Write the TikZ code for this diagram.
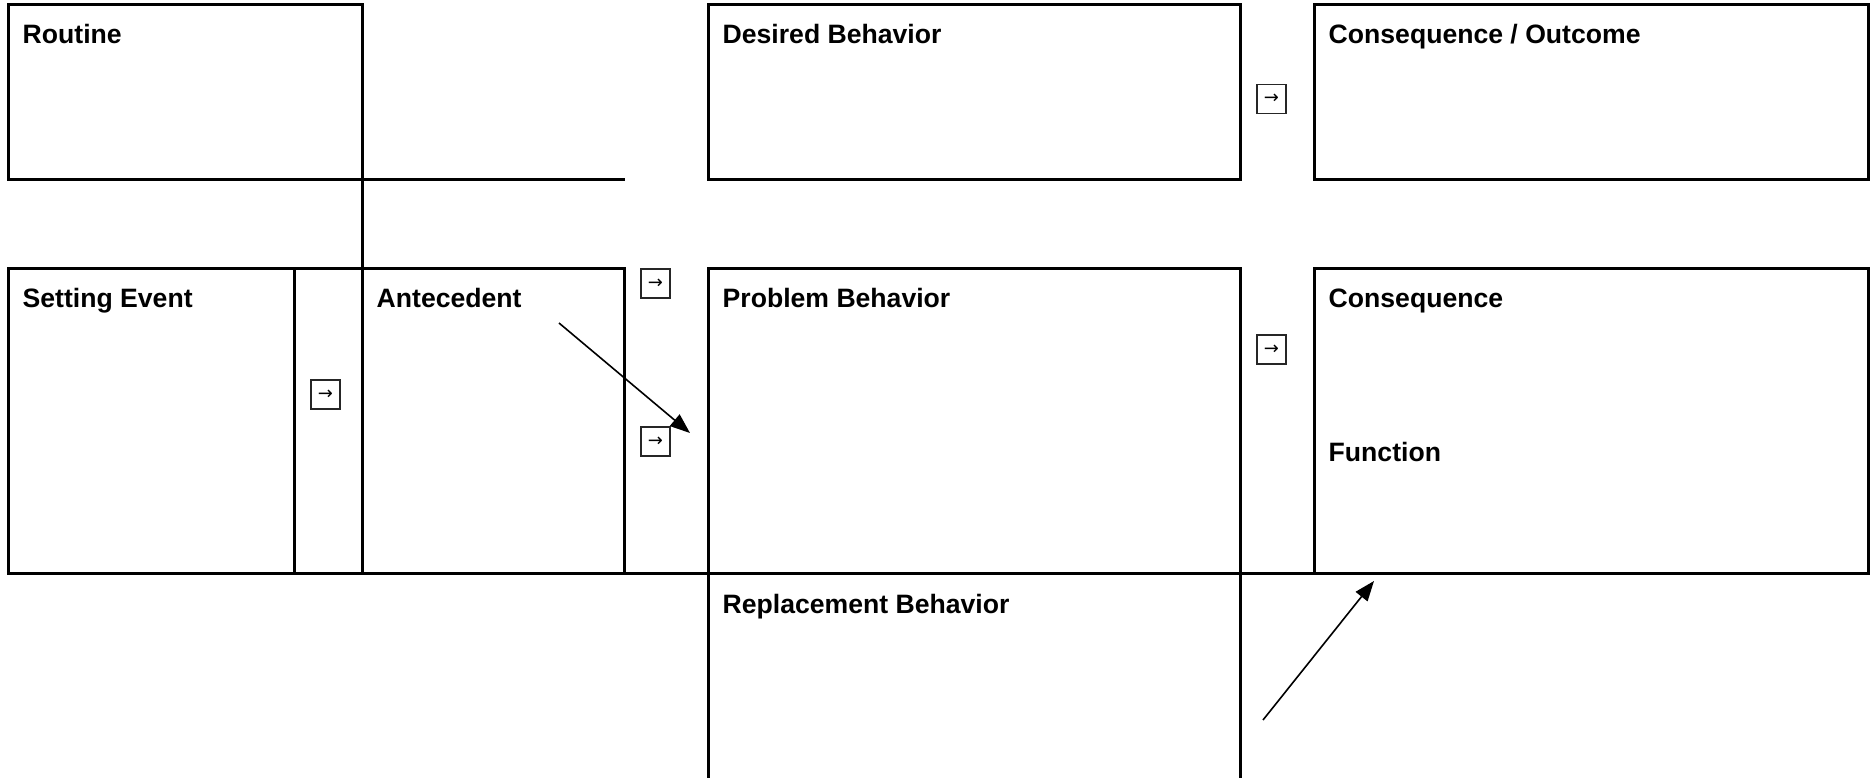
\documentclass[tikz,border=0pt]{standalone}
\usepackage{fontspec}
\setmainfont{Liberation Sans}
\newfontfamily\arrowfont{DejaVu Sans}
\usetikzlibrary{arrows.meta}
\tikzset{
  box/.style={draw, line width=3pt, inner sep=0pt, outer sep=0pt, anchor=north west},
  rule/.style={line width=3pt},
  lbl/.style={anchor=base west, inner sep=0pt, font=\fontsize{26.6pt}{31pt}\selectfont\bfseries},
  arrowbox/.style={draw=black!85, line width=1.4pt, minimum width=29pt, minimum height=29pt,
    inner sep=0pt, font=\arrowfont\fontsize{18pt}{18pt}\selectfont},
  pointer/.style={line width=1.6pt, -{Triangle[length=20pt,width=15pt]}},
}
\begin{document}
\begin{tikzpicture}[x=1pt,y=-1pt]
\useasboundingbox (0,0) rectangle (1875,778);

% top row
\node[box, minimum width=354pt, minimum height=175pt] (routine) at (8,5) {};
\node[box, minimum width=532pt, minimum height=175pt] (desired) at (708,5) {};
\node[box, minimum width=554pt, minimum height=175pt] (outcome) at (1314,5) {};

% middle row
\node[box, minimum width=286pt, minimum height=304pt] (setting) at (8,269) {};
\node[box, minimum width=68pt,  minimum height=304pt] (gap)     at (294,269) {};
\node[box, minimum width=262pt, minimum height=304pt] (antec)   at (362,269) {};
\node[box, minimum width=532pt, minimum height=304pt] (problem) at (708,269) {};
\node[box, minimum width=554pt, minimum height=304pt] (conseq)  at (1314,269) {};

% joining rules
\coordinate (routineEnd) at (625,180);
\draw[rule] (routine.south east) -- (routineEnd);
\draw[rule] (routine.south east) -- (antec.north west);
\draw[rule] (setting.south west) -- (conseq.south east);

% replacement behaviour column
\coordinate (replL) at (708,795);
\coordinate (replR) at (1240,795);
\draw[rule] (problem.south west) -- (replL);
\draw[rule] (problem.south east) -- (replR);

% labels
\node[lbl] (tRoutine) at (22.5,43.5) {Routine};
\node[lbl] (tDesired) at (722.5,43.5) {Desired Behavior};
\node[lbl] (tOutcome) at (1328.5,43.5) {Consequence / Outcome};
\node[lbl] (tSetting) at (22.5,308) {Setting Event};
\node[lbl] (tAntec) at (376.5,308) {Antecedent};
\node[lbl] (tProblem) at (722.5,308) {Problem Behavior};
\node[lbl] (tConseq) at (1328.5,308) {Consequence};
\node[lbl] (tFunction) at (1328.5,461) {Function};
\node[lbl] (tReplace) at (722.5,613) {Replacement Behavior};

% small arrow boxes
\node[arrowbox] (ab1) at (325.5,394.5) {→};
\node[arrowbox] (ab2) at (655.5,283.5) {→};
\node[arrowbox] (ab3) at (655.5,441.5) {→};
\node[arrowbox] (ab4) at (1271.5,99) {→};
\node[arrowbox] (ab5) at (1271.5,349.5) {→};

% pointers
\coordinate (p1s) at (559,323);
\coordinate (p1e) at (690,433);
\draw[pointer] (p1s) -- (p1e);
\coordinate (p2s) at (1263,720);
\coordinate (p2e) at (1374,581);
\draw[pointer] (p2s) -- (p2e);
\end{tikzpicture}
\end{document}
